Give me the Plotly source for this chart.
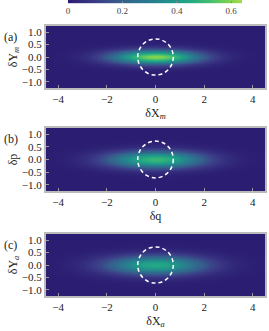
import numpy as np
import plotly.graph_objects as go

# Data: Gaussian Wigner-like distributions
panel_labels = ["(a)", "(b)", "(c)"]
x_titles = ["δX<sub><i>m</i></sub>", "δq", "δX<sub><i>a</i></sub>"]
y_titles = ["δY<sub><i>m</i></sub>", "δp", "δY<sub><i>a</i></sub>"]
peaks = [0.60, 0.50, 0.45]
sigma_x = [1.3, 1.4, 1.45]
sigma_y = [0.2, 0.24, 0.27]
circle_radius = 0.73
x_ticks = [-4, -2, 0, 2, 4]
x_ticktext = ["−4", "−2", "0", "2", "4"]
y_ticks = [1.0, 0.5, 0.0, -0.5, -1.0]
y_ticktext = ["1.0", "0.5", "0.0", "−0.5", "−1.0"]
cbar_ticks = [0, 0.2, 0.4, 0.6]
zmax = 0.64

colorscale = [[0, "#2b1d72"], [0.15, "#3b3a86"], [0.3, "#355f8d"], [0.45, "#2a788e"],
              [0.58, "#21918c"], [0.7, "#22a884"], [0.82, "#44bf70"], [0.92, "#7ad151"],
              [1, "#a6da50"]]

xg = np.linspace(-4.5, 4.5, 181)
yg = np.linspace(-1.25, 1.25, 101)
X, Y = np.meshgrid(xg, yg)

W, H = 269, 331
ydoms = [(1 - 88 / H, 1 - 26 / H), (1 - 191 / H, 1 - 128 / H), (1 - 296 / H, 1 - 234 / H)]
xdom = (46 / W, 265 / W)
font = "Liberation Serif"

fig = go.Figure()
for i in range(3):
    z = peaks[i] * np.exp(-X**2 / (2 * sigma_x[i] ** 2) - Y**2 / (2 * sigma_y[i] ** 2))
    xa = "x" if i == 0 else f"x{i+1}"
    ya = "y" if i == 0 else f"y{i+1}"
    tr = go.Heatmap(
        x=xg, y=yg, z=z, xaxis=xa, yaxis=ya, colorscale=colorscale,
        zmin=0, zmax=zmax, zsmooth="best", showscale=(i == 0), hoverinfo="skip",
    )
    if i == 0:
        tr.colorbar = dict(
            orientation="h", x=(68 + 242) / 2 / W, xanchor="center",
            y=1 - 19 / H, yanchor="bottom", len=174 / W, lenmode="fraction",
            thickness=7, outlinewidth=0, xpad=0, ypad=0, tickvals=cbar_ticks,
            ticktext=["0", "0.2", "0.4", "0.6"], ticklabelposition="outside top",
            ticks="inside", ticklen=2, tickcolor="#888",
            tickfont=dict(family=font, size=9, color="#444"),
        )
    fig.add_trace(tr)
    axsuf = "" if i == 0 else str(i + 1)
    fig.update_layout(**{
        f"xaxis{axsuf}": dict(
            domain=list(xdom), anchor=ya, range=[-4.5, 4.5],
            tickvals=x_ticks, ticktext=x_ticktext, ticks="inside", ticklen=3,
            tickcolor="#999", showgrid=False, zeroline=False, showline=True,
            linecolor="#bbb", linewidth=2, mirror=True,
            tickfont=dict(family=font, size=11, color="#222"),
            title=dict(text=x_titles[i], font=dict(family=font, size=12, color="#222"), standoff=4),
        ),
        f"yaxis{axsuf}": dict(
            domain=list(ydoms[i]), anchor=xa, range=[-1.25, 1.25],
            tickvals=y_ticks, ticktext=y_ticktext, ticks="inside", ticklen=3,
            tickcolor="#999", showgrid=False, zeroline=False, showline=True,
            linecolor="#bbb", linewidth=2, mirror=True,
            tickfont=dict(family=font, size=11, color="#222"),
            title=dict(text=y_titles[i], font=dict(family=font, size=12, color="#222"), standoff=2),
        ),
    })
    fig.add_shape(type="circle", xref=xa, yref=ya,
                  x0=-circle_radius, x1=circle_radius, y0=-circle_radius, y1=circle_radius,
                  line=dict(color="white", width=1.5, dash="4px,3px"))
    fig.add_annotation(text=panel_labels[i], xref="paper", yref="paper",
                       x=2 / W, y=ydoms[i][1] - 2 / H, xanchor="left", yanchor="top",
                       showarrow=False, font=dict(family=font, size=12, color="#222"))

fig.update_layout(width=W, height=H,
                  margin=dict(l=0, r=0, t=0, b=0, autoexpand=False),
                  paper_bgcolor="white", plot_bgcolor="white", showlegend=False)
fig.write_html("out.html", config={"displayModeBar": False})

with open("out.html", encoding="utf-8") as f:
    html = f.read()
html = html.replace("<head>", "<head><style>html,body{margin:0;padding:0;overflow:hidden;}</style>", 1)
with open("out.html", "w", encoding="utf-8") as f:
    f.write(html)
